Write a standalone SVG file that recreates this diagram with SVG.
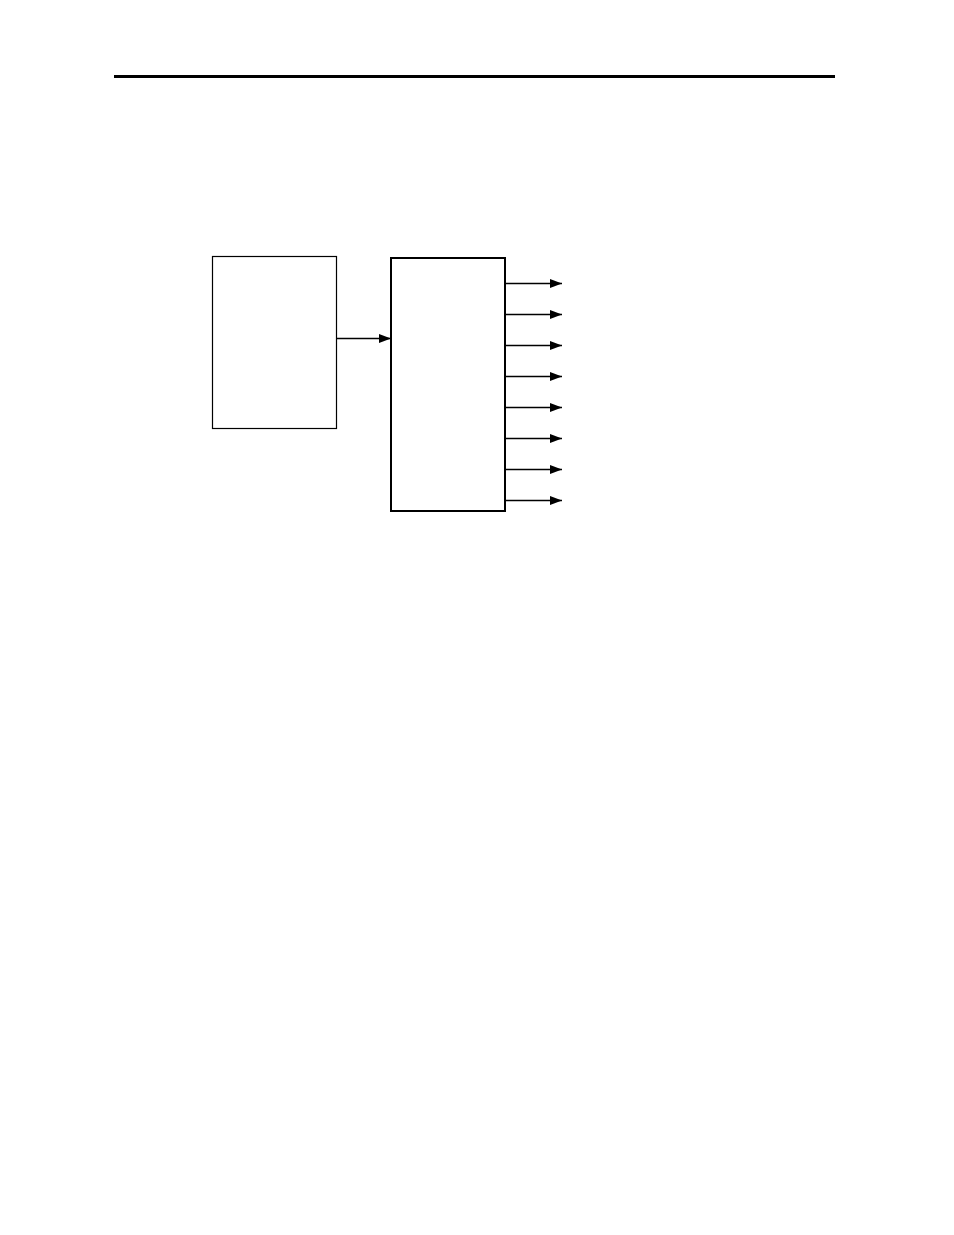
<svg xmlns="http://www.w3.org/2000/svg" width="954" height="1235" viewBox="0 0 954 1235">
<style>
.box{fill:#fff;stroke:#000}
.wire{stroke:#000;stroke-width:1.3;fill:none}
</style>
<defs>
<marker id="ah" markerUnits="userSpaceOnUse" markerWidth="12" markerHeight="9" refX="12" refY="4.5" orient="auto">
<path d="M0,0 L12,4.5 L0,9 Z" fill="#000"/>
</marker>
</defs>
<rect width="954" height="1235" fill="#fff"/>
<rect x="114" y="75" width="721" height="3" fill="#000"/>
<g id="source"><rect class="box" x="212.5" y="256.5" width="124" height="172" stroke-width="1.2"/></g>
<g id="block"><rect class="box" x="391" y="258" width="114" height="253" stroke-width="2"/></g>
<g id="connectors">
<line class="wire" x1="337" y1="338.5" x2="391" y2="338.5" marker-end="url(#ah)"/>
<line class="wire" x1="505" y1="283.5" x2="562" y2="283.5" marker-end="url(#ah)"/>
<line class="wire" x1="505" y1="314.5" x2="562" y2="314.5" marker-end="url(#ah)"/>
<line class="wire" x1="505" y1="345.5" x2="562" y2="345.5" marker-end="url(#ah)"/>
<line class="wire" x1="505" y1="376.5" x2="562" y2="376.5" marker-end="url(#ah)"/>
<line class="wire" x1="505" y1="407.5" x2="562" y2="407.5" marker-end="url(#ah)"/>
<line class="wire" x1="505" y1="438.5" x2="562" y2="438.5" marker-end="url(#ah)"/>
<line class="wire" x1="505" y1="469.5" x2="562" y2="469.5" marker-end="url(#ah)"/>
<line class="wire" x1="505" y1="500.5" x2="562" y2="500.5" marker-end="url(#ah)"/>
</g>
</svg>
